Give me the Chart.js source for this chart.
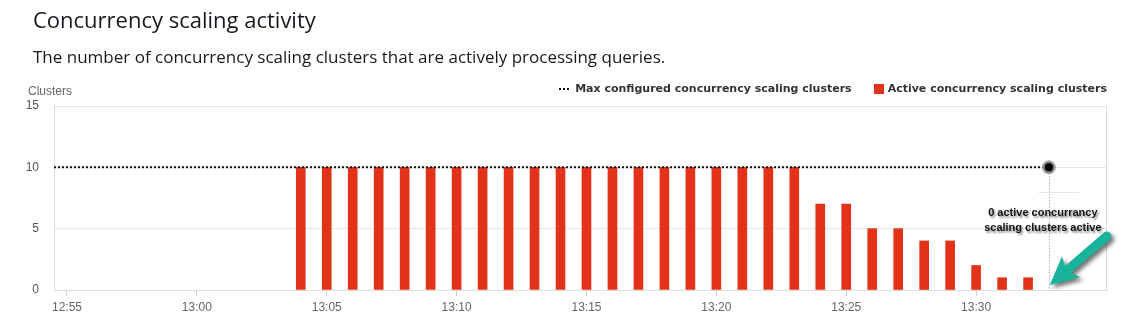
<!DOCTYPE html>
<html>
<head>
<meta charset="utf-8">
<script src="https://cdn.jsdelivr.net/npm/chart.js@4.4.1/dist/chart.umd.min.js"></script>
<style>
  body { margin: 0; width: 1125px; height: 323px; background: #fff; position: relative; overflow: hidden; }
  #chart { position: absolute; left: 0; top: 0; }
  .txt { position: absolute; white-space: nowrap; z-index: 2; }
  #title { left: 33px; top: 4px; font: 22px "Open Sans", sans-serif; color: #16191f; }
  #subtitle { left: 33px; top: 45px; font: 17px "Open Sans", sans-serif; color: #16191f; }
  #ytitle { left: 28px; top: 84px; font: 12px "Liberation Sans", sans-serif; color: #666; }
  #legend { right: 18px; top: 82px; font: bold 11px "DejaVu Sans", sans-serif; color: #333; display: flex; align-items: center; }
  .dots { display: inline-block; width: 10px; border-top: 2px dotted #111; margin-right: 6px; }
  .box { display: inline-block; width: 10px; height: 10px; background: #e2331a; margin: 0 4px 0 22px; }
</style>
</head>
<body>
<div id="title" class="txt">Concurrency scaling activity</div>
<div id="subtitle" class="txt">The number of concurrency scaling clusters that are actively processing queries.</div>
<div id="ytitle" class="txt">Clusters</div>
<div id="legend" class="txt">
  <span class="dots"></span><span>Max configured concurrency scaling clusters</span>
  <span class="box"></span><span>Active concurrency scaling clusters</span>
</div>
<canvas id="chart" width="1125" height="323"></canvas>
<script>
// minutes with at least one active cluster, and how many were running
const activeTimes = ['13:04', '13:05', '13:06', '13:07', '13:08', '13:09', '13:10', '13:11', '13:12', '13:13',
                     '13:14', '13:15', '13:16', '13:17', '13:18', '13:19', '13:20', '13:21', '13:22', '13:23',
                     '13:24', '13:25', '13:26', '13:27', '13:28', '13:29', '13:30', '13:31', '13:32'];
const activeClusters = [10, 10, 10, 10, 10, 10, 10, 10, 10, 10,
                        10, 10, 10, 10, 10, 10, 10, 10, 10, 10,
                        7, 7, 5, 5, 4, 4, 2, 1, 1];

// configured ceiling, up to the hovered point
const maxTimes = ['12:54:30', '13:32:48'];
const maxClusters = [10, 10];

const xRange = ['12:54:30', '13:35'];
const xTickLabels = ['12:55', '13:00', '13:05', '13:10', '13:15', '13:20', '13:25', '13:30'];
const yTickValues = [0, 5, 10, 15];

const note = ['0 active concurrancy', 'scaling clusters active'];

// "HH:MM[:SS]" -> minutes after 12:00
function toMinutes(t) {
    const p = t.split(':').map(Number);
    return (p[0] - 12) * 60 + p[1] + (p[2] || 0) / 60;
}
function fmt(m) {
    const h = 12 + Math.floor(m / 60);
    const mm = Math.round(m % 60);
    return h + ':' + String(mm).padStart(2, '0');
}

const BAR_RED = '#e2331a';

// right border, hover crosshair and the callout
const extras = {
    id: 'extras',
    beforeDatasetsDraw(chart) {
        const { ctx, chartArea: a, scales } = chart;
        ctx.save();
        ctx.strokeStyle = '#dcdcdc';
        ctx.lineWidth = 1;
        ctx.beginPath();
        ctx.moveTo(a.right + 0.5, a.top);
        ctx.lineTo(a.right + 0.5, a.bottom);
        ctx.stroke();

        const meta = chart.getDatasetMeta(0);
        const pt = meta.data[meta.data.length - 1];
        const x = Math.round(pt.x) + 0.5;

        // faint rules left behind the callout box
        ctx.strokeStyle = '#e9e9e9';
        [8, 6].forEach(v => {
            const y = Math.round(scales.y.getPixelForValue(v)) + 0.5;
            ctx.beginPath();
            ctx.moveTo(x - 11, y);
            ctx.lineTo(x + 30, y);
            ctx.stroke();
        });

        ctx.strokeStyle = '#8a8a8a';
        ctx.setLineDash([1, 2]);
        ctx.beginPath();
        ctx.moveTo(x, pt.y);
        ctx.lineTo(x, a.bottom);
        ctx.stroke();
        ctx.restore();
    },
    afterDraw(chart) {
        const { ctx, chartArea: a } = chart;
        const meta = chart.getDatasetMeta(0);
        const pt = meta.data[meta.data.length - 1];
        const px = pt.x;

        ctx.save();
        ctx.font = 'bold 11px "Liberation Sans", Arial, sans-serif';
        ctx.textAlign = 'center';
        ctx.textBaseline = 'middle';
        ctx.shadowColor = 'rgba(0,0,0,0.45)';
        ctx.shadowBlur = 2;
        ctx.shadowOffsetX = 1.5;
        ctx.shadowOffsetY = 1.5;
        ctx.fillStyle = '#111';
        ctx.fillText(note[0], px - 6, pt.y + 46);
        ctx.fillText(note[1], px - 6, pt.y + 61);
        ctx.restore();

        // arrow pointing down-left to the empty slot
        const tipX = px + 1, tipY = a.bottom - 5;
        const tailX = px + 58, tailY = a.bottom - 54;
        const ang = Math.atan2(tipY - tailY, tipX - tailX);
        const len = Math.hypot(tipX - tailX, tipY - tailY);
        ctx.save();
        ctx.translate(tailX, tailY);
        ctx.rotate(ang);
        ctx.shadowColor = 'rgba(0,0,0,0.55)';
        ctx.shadowBlur = 4;
        ctx.shadowOffsetX = 3;
        ctx.shadowOffsetY = 3;
        ctx.fillStyle = '#17b39a';
        ctx.beginPath();
        ctx.moveTo(0, -4.5);
        ctx.lineTo(len - 24, -4.5);
        ctx.lineTo(len - 28, -14);
        ctx.lineTo(len, 0);
        ctx.lineTo(len - 28, 14);
        ctx.lineTo(len - 24, 4.5);
        ctx.lineTo(0, 4.5);
        ctx.arc(0, 0, 4.5, Math.PI / 2, Math.PI * 1.5);
        ctx.closePath();
        ctx.fill();
        ctx.restore();
    }
};

const ctx = document.getElementById('chart').getContext('2d');
new Chart(ctx, {
    type: 'bar',
    data: {
        datasets: [
            {
                type: 'line',
                label: 'Max configured concurrency scaling clusters',
                data: maxTimes.map((t, i) => ({ x: toMinutes(t), y: maxClusters[i] })),
                borderColor: '#111',
                borderWidth: 2,
                borderDash: [2, 2],
                pointRadius: c => (c.dataIndex === maxTimes.length - 1 ? 5.5 : 0),
                pointBackgroundColor: '#000',
                pointBorderColor: 'rgba(150,150,150,0.8)',
                pointBorderWidth: 3,
                order: 0
            },
            {
                label: 'Active concurrency scaling clusters',
                data: activeTimes.map((t, i) => ({ x: toMinutes(t), y: activeClusters[i] })),
                backgroundColor: BAR_RED,
                barThickness: 9,
                order: 1
            }
        ]
    },
    options: {
        responsive: false,
        animation: false,
        devicePixelRatio: 1,
        layout: { padding: { top: 106, right: 19, left: 0, bottom: 0 } },
        plugins: {
            legend: { display: false },
            tooltip: { enabled: false }
        },
        scales: {
            x: {
                type: 'linear',
                offset: false,
                min: toMinutes(xRange[0]),
                max: toMinutes(xRange[1]),
                afterBuildTicks: s => { s.ticks = xTickLabels.map(t => ({ value: toMinutes(t) })); },
                afterFit: s => { s.height = 33; },
                grid: { offset: false, drawOnChartArea: false, drawTicks: true, tickLength: 6, color: '#c6d0e0' },
                border: { color: '#dcdcdc' },
                ticks: {
                    callback: v => fmt(v),
                    font: { family: 'Liberation Sans', size: 12 },
                    color: '#666',
                    padding: 4,
                    maxRotation: 0,
                    autoSkip: false
                }
            },
            y: {
                min: 0,
                max: 15,
                afterBuildTicks: s => { s.ticks = yTickValues.map(v => ({ value: v })); },
                afterFit: s => { s.width = 54; },
                grid: { color: '#e6e6e6', drawTicks: false },
                border: { color: '#dcdcdc' },
                ticks: {
                    font: { family: 'Liberation Sans', size: 12 },
                    color: '#555',
                    padding: 15
                }
            }
        }
    },
    plugins: [extras]
});
</script>
</body>
</html>
